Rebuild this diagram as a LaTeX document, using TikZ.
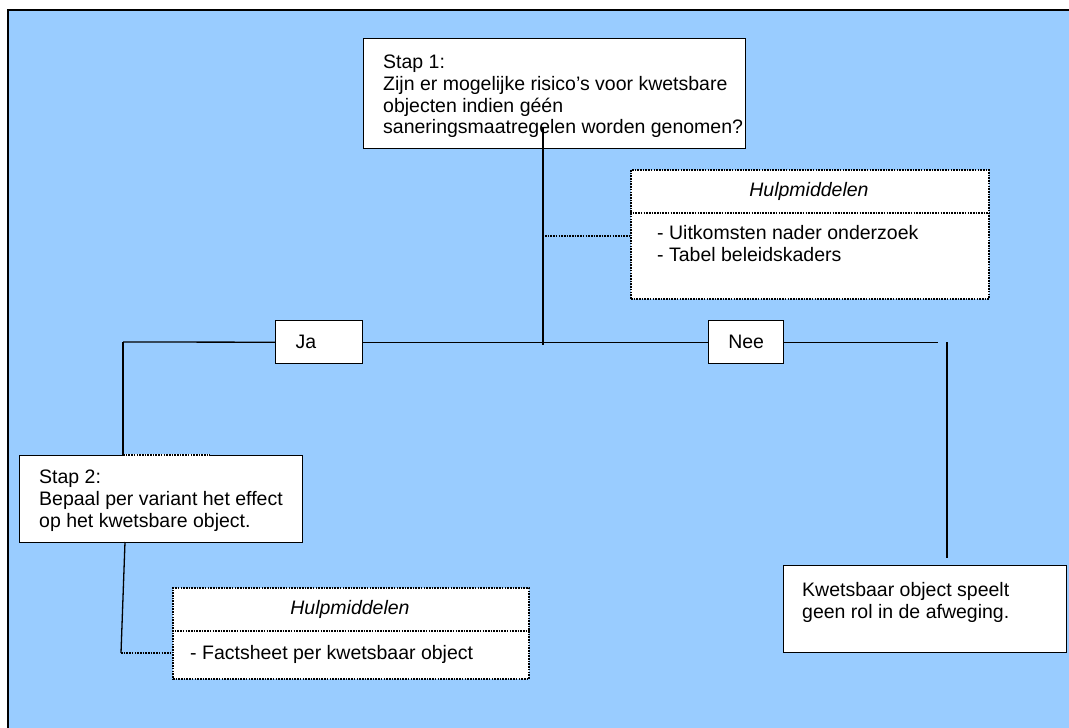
\documentclass[tikz,border=0pt]{standalone}
\usepackage{fontspec}
\setmainfont{Liberation Sans}
\usetikzlibrary{calc}
\definecolor{bg}{HTML}{99CCFF}
\begin{document}
\begin{tikzpicture}[x=1pt,y=-1pt,
  box/.style={draw=black, line width=1.4pt, fill=white, inner sep=0pt, anchor=north west},
  dotbox/.style={draw=black, line width=1.8pt, dash pattern=on 1.6pt off 1.1pt, fill=white, inner sep=0pt, anchor=north west},
  txt/.style={font=\fontsize{19.5}{21.7}\selectfont, align=left, inner sep=0pt, anchor=north west},
  conn/.style={line width=1.3pt},
  dotconn/.style={line width=1.8pt, dash pattern=on 1.6pt off 1.1pt}]
\clip (0,0) rectangle (1069,728);
\useasboundingbox (0,0) rectangle (1069,728);
\fill[white] (0,0) rectangle (1069,728);
\draw[fill=bg, line width=1.6pt] (8,10) rectangle (1090,745);

% Stap 1
\node[box, minimum width=382, minimum height=110] (s1) at (363,38) {};
\node[txt] (s1t) at (383,55) {Stap 1:\\Zijn er mogelijke risico’s voor kwetsbare\\objecten indien géén\\saneringsmaatregelen worden genomen?};
\coordinate (s1o) at (543,127);
\coordinate (hub) at (543,345);
\draw[conn] (s1o) -- (hub);

% Hulpmiddelen 1
\node[dotbox, minimum width=358, minimum height=129] (h1) at (630,169) {};
\draw[dotconn] ($(h1.north west)+(0,44)$) -- ($(h1.north east)+(0,44)$);
\node[txt, font=\fontsize{19.5}{21.7}\selectfont\itshape, anchor=center] (h1h) at (809,191) {Hulpmiddelen};
\node[txt] (h1i) at (657,225) {- Uitkomsten nader onderzoek\\- Tabel beleidskaders};
\coordinate (d1) at (545,236);
\draw[dotconn] (d1) -- (d1 -| h1.west);

% Ja / Nee
\node[box, minimum height=43, text width=47, inner xsep=20, align=left, font=\fontsize{19.5}{21.7}\selectfont] (ja) at (275,320) {Ja};
\node[box, minimum width=75, minimum height=43, font=\fontsize{19.5}{21.7}\selectfont] (nee) at (708,320) {Nee};
\coordinate (jl) at (123,342);
\draw[conn] (jl) -- (ja.west);
\draw[conn] (ja.east) -- (nee.west);
\coordinate (nr) at (938,345);
\draw[conn] (nee.east) -- (nee.east -| nr);

% Kwetsbaar
\node[box, minimum width=283, minimum height=87] (kw) at (783,565) {};
\node[txt] (kwt) at (802,582) {Kwetsbaar object speelt\\geen rol in de afweging.};
\coordinate (vr) at (947,342);
\coordinate (vre) at (947,558);
\draw[conn] (vr) -- (vre);

% Stap 2
\node[box, minimum width=283, minimum height=87] (s2) at (19,455) {};
\node[txt] (s2t) at (39,470) {Stap 2:\\Bepaal per variant het effect\\op het kwetsbare object.};
\draw[conn] (jl) -- (jl |- s2.north);
\draw[white, line width=1.6pt] (jl |- s2.north) -- ++(87,0);
\draw[dotconn] (jl |- s2.north) -- ++(87,0);

% Hulpmiddelen 2
\node[dotbox, minimum width=356, minimum height=91] (h2) at (172,587) {};
\draw[dotconn] ($(h2.north west)+(0,44)$) -- ($(h2.north east)+(0,44)$);
\node[txt, font=\fontsize{19.5}{21.7}\selectfont\itshape, anchor=center] (h2h) at (350,609) {Hulpmiddelen};
\node[txt] (h2i) at (190,645) {- Factsheet per kwetsbaar object};
\coordinate (c2a) at (125,542);
\coordinate (c2b) at (121,653);
\draw[conn] (c2a) -- (c2b);
\draw[dotconn] (c2b) -- (c2b -| h2.west);
\end{tikzpicture}
\end{document}
